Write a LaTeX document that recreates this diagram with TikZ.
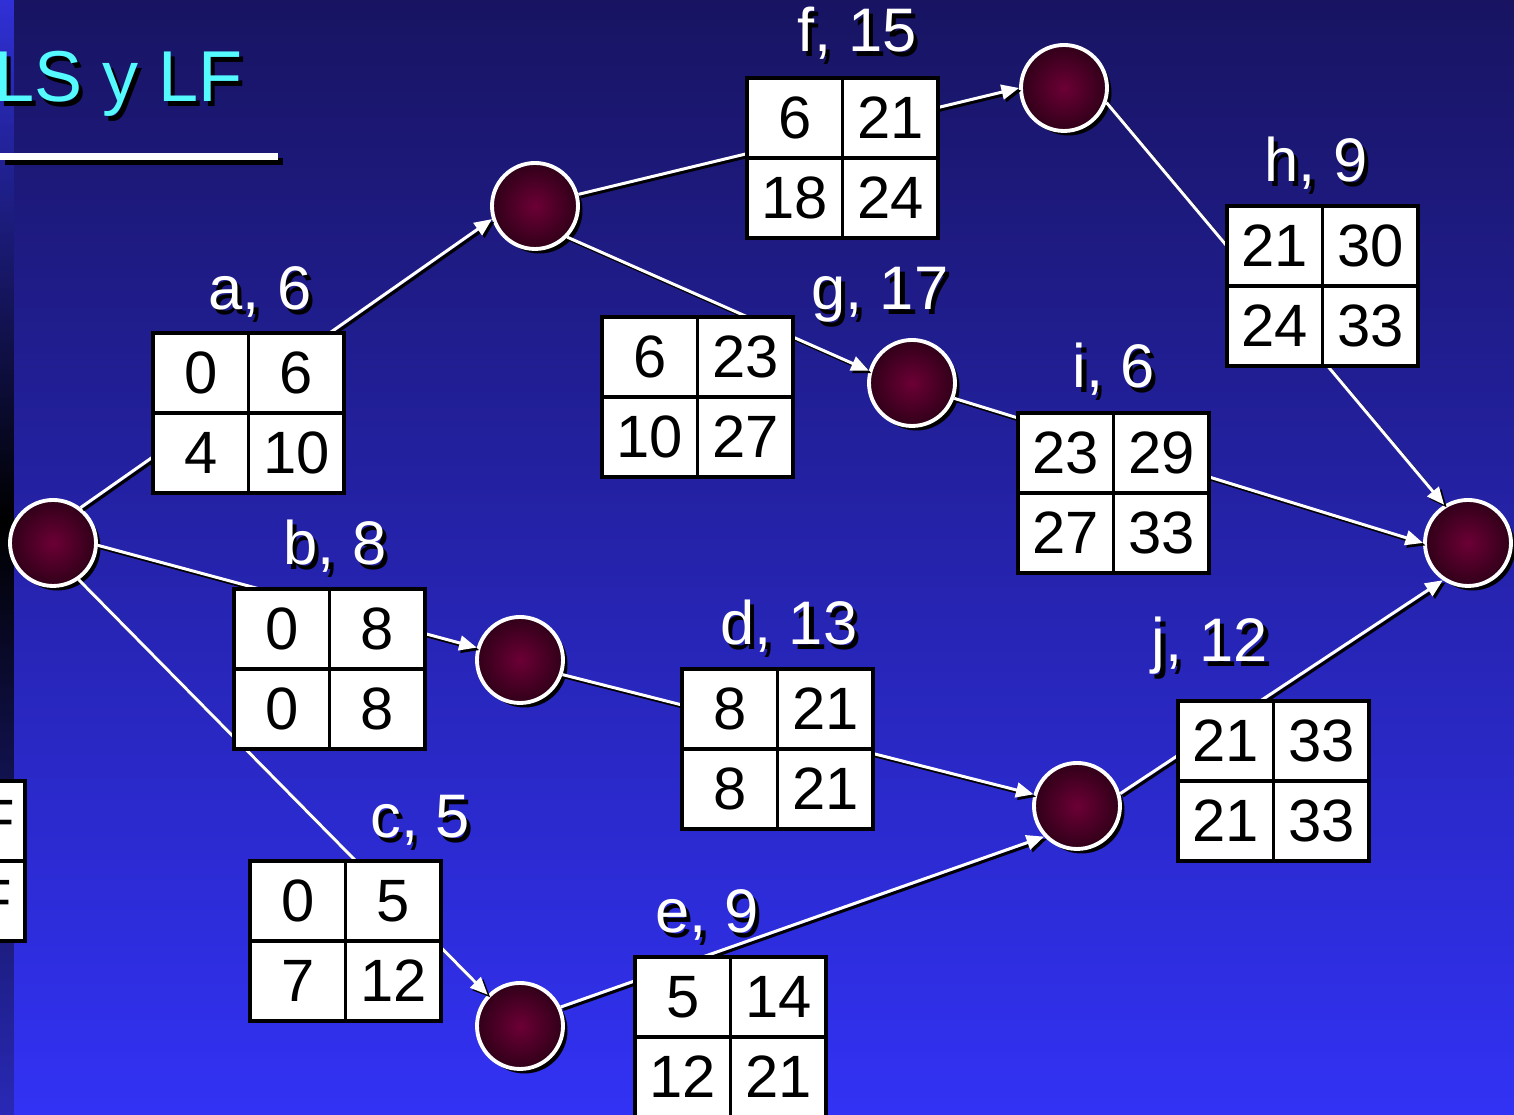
\documentclass[tikz,border=0pt]{standalone}
\usepackage{fontspec}
\setmainfont{Liberation Sans}
\usetikzlibrary{arrows.meta,shadows}

\definecolor{bgtop}{RGB}{24,20,98}
\definecolor{bgbot}{RGB}{50,50,245}
\definecolor{stripblue}{RGB}{48,48,215}
\definecolor{nodein}{RGB}{108,0,54}
\definecolor{nodeout}{RGB}{48,0,24}
\definecolor{titlecyan}{RGB}{85,250,255}

\tikzset{
  event/.style={circle, minimum size=0.86cm, draw=white, line width=1.1pt,
    inner color=nodein, outer color=nodeout,
    drop shadow={shadow xshift=0.045cm, shadow yshift=-0.045cm, opacity=1, fill=black}},
  conn/.style={white, line width=0.85pt, -{Triangle[length=5pt,width=4.2pt]},
    preaction={draw=black, line width=0.85pt, transform canvas={shift={(0.025cm,-0.025cm)}}}},
  cell/.style={draw=black, fill=white, line width=1pt, minimum width=0.955cm,
    minimum height=0.8cm, inner sep=0pt, outer sep=0pt, font=\fontsize{17}{18}\selectfont},
  tag/.style={white, inner sep=0pt, anchor=base, font=\fontsize{17.5}{19}\selectfont},
}

\newcommand{\actbox}[8]{%
  \node[cell, anchor=north west] (#1es) at #2 {#5};
  \node[cell, anchor=north west] (#1ef) at (#1es.north east) {#6};
  \node[cell, anchor=north west] (#1ls) at (#1es.south west) {#7};
  \node[cell, anchor=north west] (#1lf) at (#1es.south east) {#8};
  \node[tag, black, xshift=1.2pt, yshift=-1.2pt] (#1sh) at #3 {#4};
  \node[tag] (#1lbl) at #3 {#4};
}

\begin{document}
\begin{tikzpicture}
\useasboundingbox (0,0) rectangle (15.14,11.15);
\clip (0,0) rectangle (15.14,11.15);
\shade[top color=bgtop, bottom color=bgbot] (0,0) rectangle (15.14,11.15);
\shade[top color=stripblue, bottom color=black] (0,5.95) rectangle (0.14,11.15);
\shade[top color=black, bottom color=stripblue!85!black] (0,0) rectangle (0.14,5.95);

\node[anchor=base east, inner sep=0pt, black, xshift=1.3pt, yshift=-1.3pt,
  font=\fontsize{20.5}{24}\selectfont] (titlesh) at (2.43,10.13) {LS y LF};
\node[anchor=base east, inner sep=0pt, titlecyan,
  font=\fontsize{20.5}{24}\selectfont] (title) at (2.43,10.13) {LS y LF};
\fill[black] (0.05,9.50) rectangle (2.83,9.57);
\fill[white] (0,9.55) rectangle (2.78,9.62);

\node[event] (n1) at (0.53,5.72) {};
\node[event] (n2) at (5.35,9.09) {};
\node[event] (n3) at (10.64,10.27) {};
\node[event] (n4) at (5.20,4.55) {};
\node[event] (n5) at (9.12,7.32) {};
\node[event] (n6) at (14.68,5.72) {};
\node[event] (n7) at (10.77,3.09) {};
\node[event] (n8) at (5.20,0.89) {};

\draw[conn] (n1.52) -- (n2.197);
\draw[conn] (n2.15) -- (n3.180);
\draw[conn] (n2.-44) -- (n5.164);
\draw[conn] (n3.-19) -- (n6.122);
\draw[conn] (n5.-20) -- (n6.180);
\draw[conn] (n1.-3) -- (n4.164);
\draw[conn] (n1.-55) -- (n8.136);
\draw[conn] (n4.-19) -- (n7.165);
\draw[conn] (n8.25) -- (n7.223);
\draw[conn] (n7.16) -- (n6.236);

\actbox{a}{(1.53,7.82)}{(2.60,8.05)}{a, 6}{0}{6}{4}{10}
\actbox{b}{(2.34,5.26)}{(3.35,5.50)}{b, 8}{0}{8}{0}{8}
\actbox{c}{(2.50,2.54)}{(4.20,2.77)}{c, 5}{0}{5}{7}{12}
\actbox{d}{(6.82,4.46)}{(7.89,4.70)}{d, 13}{8}{21}{8}{21}
\actbox{e}{(6.35,1.58)}{(7.07,1.82)}{e, 9}{5}{14}{12}{21}
\actbox{f}{(7.47,10.37)}{(8.57,10.63)}{f, 15}{6}{21}{18}{24}
\actbox{g}{(6.02,7.98)}{(8.80,8.05)}{g, 17}{6}{23}{10}{27}
\actbox{h}{(12.27,9.09)}{(13.16,9.33)}{h, 9}{21}{30}{24}{33}
\actbox{i}{(10.18,7.02)}{(11.14,7.27)}{i, 6}{23}{29}{27}{33}
\actbox{j}{(11.78,4.14)}{(12.10,4.53)}{j, 12}{21}{33}{21}{33}

\node[cell, anchor=north west] (keyes) at (-1.66,3.34) {};
\node[cell, anchor=north west] (keyef) at (keyes.north east) {EF};
\node[cell, anchor=north west] (keyls) at (keyes.south west) {};
\node[cell, anchor=north west] (keylf) at (keyes.south east) {LF};
\end{tikzpicture}
\end{document}
